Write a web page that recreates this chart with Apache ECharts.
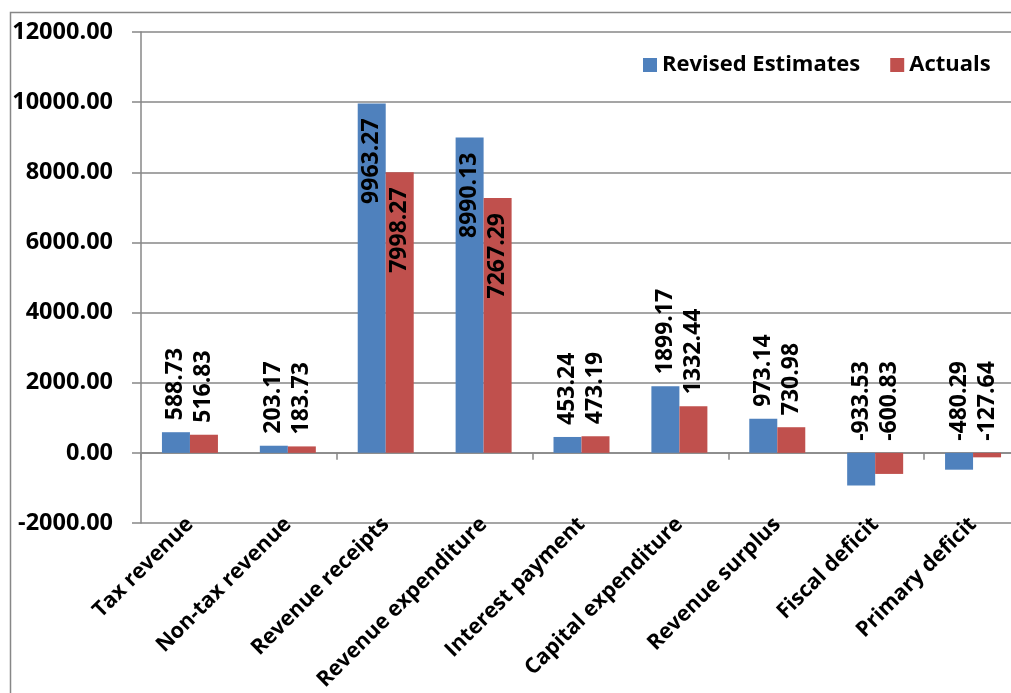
<!DOCTYPE html>
<html><head><meta charset="utf-8">
<script src="https://cdn.jsdelivr.net/npm/echarts@6/dist/echarts.min.js"></script>
<style>html,body{margin:0;padding:0;background:#fff}#c{width:1011px;height:693px}</style>
</head><body><div id="c"></div>
<script>
const categories = ['Tax revenue','Non-tax revenue','Revenue receipts','Revenue expenditure','Interest payment','Capital expenditure','Revenue surplus','Fiscal deficit','Primary deficit'];
const revisedEstimates = [588.73, 203.17, 9963.27, 8990.13, 453.24, 1899.17, 973.14, -933.53, -480.29];
const actuals = [516.83, 183.73, 7998.27, 7267.29, 473.19, 1332.44, 730.98, -600.83, -127.64];
const seriesNames = ['Revised Estimates', 'Actuals'];
const insideCats = ['Revenue receipts', 'Revenue expenditure'];

const FONT = 'Open Sans';
const GRID = '#878787';
const labelBase = {show: true, rotate: 90, fontFamily: FONT, fontWeight: 'bold', fontSize: 23, color: '#000',
  formatter: p => Number(p.value).toFixed(2)};
const labelOut = Object.assign({}, labelBase, {position: 'top', align: 'left', verticalAlign: 'middle', distance: 12});
const labelIn = Object.assign({}, labelBase, {position: 'insideTop', align: 'right', verticalAlign: 'middle', distance: 15});

function build(vals) {
  return vals.map((v, i) => ({value: v, label: insideCats.includes(categories[i]) ? labelIn : labelOut}));
}

const chart = echarts.init(document.getElementById('c'), null, {renderer: 'canvas'});
chart.setOption({
  animation: false,
  graphic: [{type: 'rect', shape: {x: 10.5, y: 12.5, width: 1200, height: 1000}, style: {fill: 'none', stroke: GRID, lineWidth: 1.5}, z: -1}],
  legend: {left: 638, top: 49, itemWidth: 14, itemHeight: 14, itemGap: 30, icon: 'rect',
    textStyle: {fontFamily: FONT, fontWeight: 'bold', fontSize: 22, color: '#000'},
    data: seriesNames},
  grid: {left: 141, top: 32, right: -11, bottom: 170, containLabel: false, outerBoundsMode: 'none'},
  xAxis: [
    {type: 'category', data: categories, axisLine: {onZero: true, lineStyle: {color: GRID, width: 1.5}},
     axisTick: {show: true, length: 7, lineStyle: {color: GRID, width: 1.5}}, axisLabel: {show: false}},
    {type: 'category', data: categories, position: 'bottom', axisLine: {show: false, onZero: false}, axisTick: {show: false},
     axisLabel: {rotate: 45, margin: -2, fontFamily: FONT, fontWeight: 'bold', fontSize: 21.5, color: '#000', interval: 0}}
  ],
  yAxis: {type: 'value', min: -2000, max: 12000, interval: 2000,
    axisLine: {show: true, lineStyle: {color: GRID, width: 1.5}},
    axisTick: {show: true, inside: false, length: 9, lineStyle: {color: GRID, width: 1.5}},
    splitLine: {show: true, lineStyle: {color: GRID, width: 1.5}},
    axisLabel: {margin: 28, fontFamily: FONT, fontWeight: 'bold', fontSize: 23.5, color: '#000',
      formatter: v => v.toFixed(2)}},
  series: [
    {name: seriesNames[0], type: 'bar', xAxisIndex: 0, data: build(revisedEstimates), barWidth: 28, barGap: '0%', itemStyle: {color: '#4F81BD'}},
    {name: seriesNames[1], type: 'bar', xAxisIndex: 0, data: build(actuals), barWidth: 28, barGap: '0%', itemStyle: {color: '#C0504D'}}
  ]
});
</script></body></html>
